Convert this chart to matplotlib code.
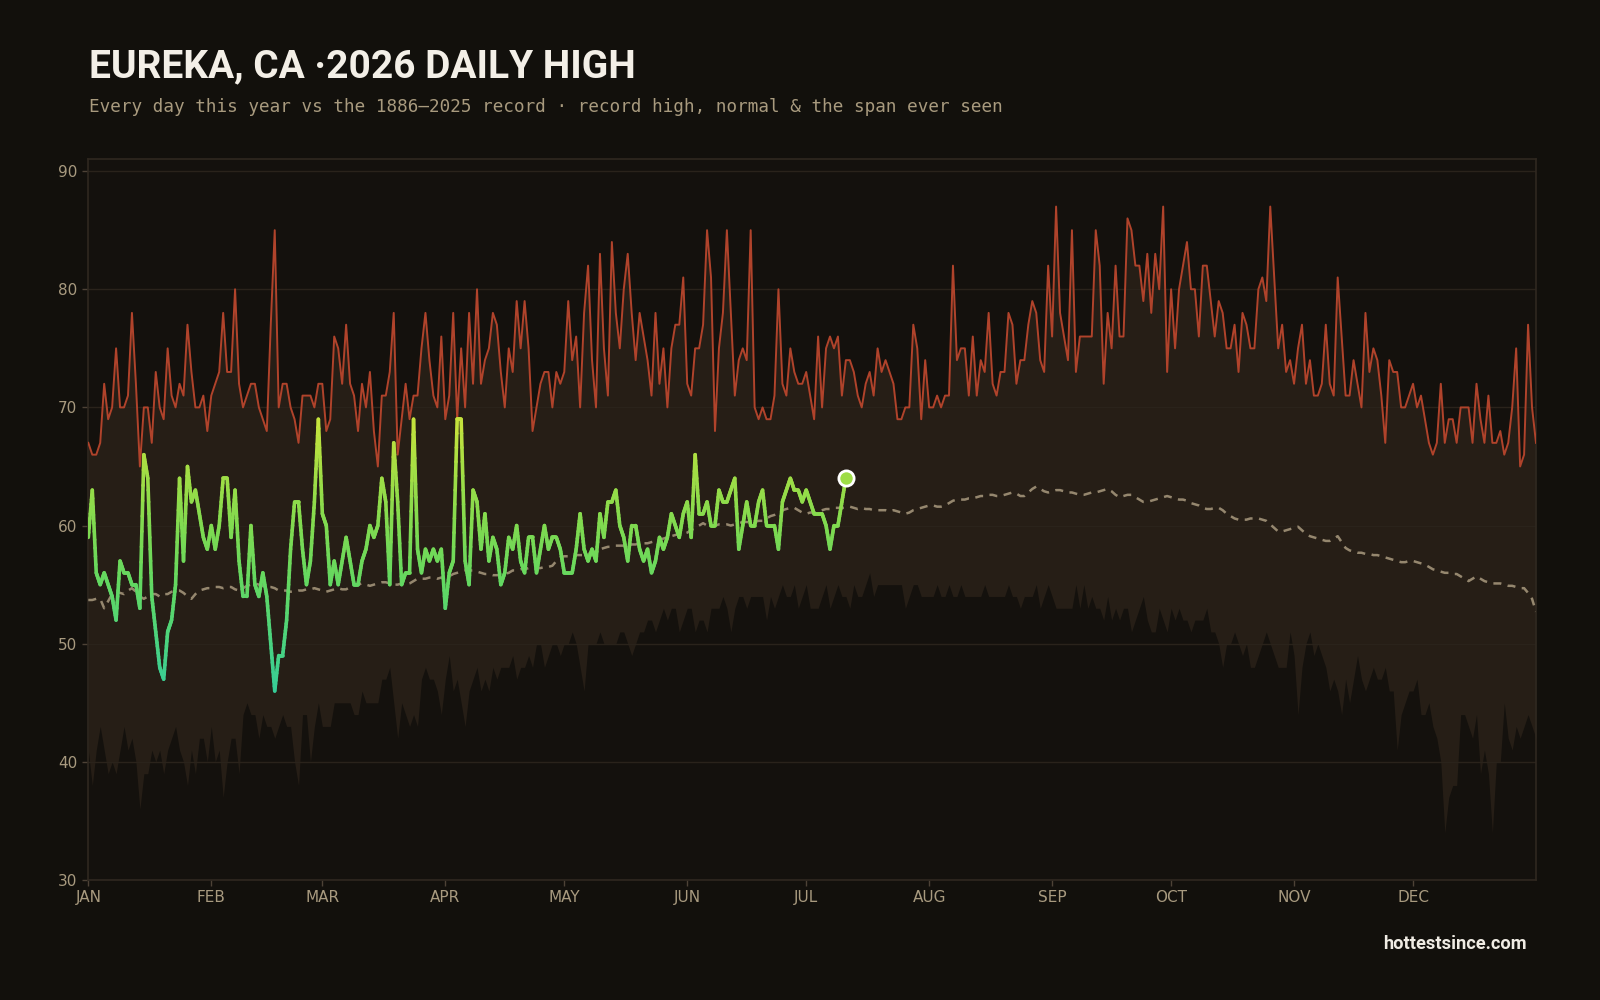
import numpy as np
import matplotlib
matplotlib.use("Agg")
import matplotlib.pyplot as plt
from matplotlib.collections import LineCollection
from matplotlib.colors import LinearSegmentedColormap, Normalize

# ---------------- data ----------------
month_labels = ['JAN', 'FEB', 'MAR', 'APR', 'MAY', 'JUN', 'JUL', 'AUG', 'SEP', 'OCT', 'NOV', 'DEC']
month_starts = [0, 31, 59, 90, 120, 151, 181, 212, 243, 273, 304, 334]
y_ticks = [30, 40, 50, 60, 70, 80, 90]

record_high = [
    67, 66, 66, 67, 72, 69, 70, 75, 70, 70,
    71, 78, 72, 65, 70, 70, 67, 73, 70, 69,
    75, 71, 70, 72, 71, 77, 73, 70, 70, 71,
    68, 71, 72, 73, 78, 73, 73, 80, 72, 70,
    71, 72, 72, 70, 69, 68, 77, 85, 70, 72,
    72, 70, 69, 67, 71, 71, 71, 70, 72, 72,
    68, 69, 76, 75, 72, 77, 72, 71, 68, 72,
    70, 73, 68, 65, 71, 71, 73, 78, 66, 69,
    72, 69, 71, 71, 75, 78, 74, 71, 70, 76,
    69, 71, 78, 69, 75, 70, 78, 72, 80, 72,
    74, 75, 78, 77, 73, 70, 75, 73, 79, 75,
    79, 75, 68, 70, 72, 73, 73, 70, 73, 72,
    73, 79, 74, 76, 70, 78, 82, 74, 70, 83,
    75, 71, 84, 78, 75, 80, 83, 78, 74, 78,
    76, 74, 71, 78, 72, 75, 70, 75, 77, 77,
    81, 72, 71, 75, 75, 77, 85, 81, 68, 75,
    78, 85, 78, 71, 74, 75, 74, 85, 70, 69,
    70, 69, 69, 71, 80, 72, 71, 75, 73, 72,
    72, 73, 71, 69, 76, 70, 75, 76, 75, 76,
    71, 74, 74, 73, 71, 70, 72, 73, 71, 75,
    73, 74, 73, 72, 69, 69, 70, 70, 77, 75,
    69, 74, 70, 70, 71, 70, 71, 71, 82, 74,
    75, 75, 71, 76, 71, 74, 73, 78, 72, 71,
    73, 73, 78, 77, 72, 74, 74, 77, 79, 78,
    74, 73, 82, 76, 87, 78, 76, 74, 85, 73,
    76, 76, 76, 76, 85, 82, 72, 78, 75, 82,
    76, 76, 86, 85, 82, 82, 79, 83, 78, 83,
    80, 87, 73, 80, 75, 80, 82, 84, 80, 80,
    76, 82, 82, 79, 76, 79, 78, 75, 75, 77,
    73, 78, 77, 75, 75, 80, 81, 79, 87, 81,
    75, 77, 73, 74, 72, 75, 77, 72, 74, 71,
    71, 72, 77, 72, 71, 81, 76, 71, 71, 74,
    72, 70, 78, 73, 75, 74, 71, 67, 74, 73,
    73, 70, 70, 71, 72, 70, 71, 69, 67, 66,
    67, 72, 67, 69, 69, 67, 70, 70, 70, 67,
    72, 69, 67, 71, 67, 67, 68, 66, 67, 70,
    75, 65, 66, 77, 70, 67,
]

record_low = [
    41, 38, 41, 43, 41, 39, 40, 39, 41, 43,
    41, 42, 40, 36, 39, 39, 41, 40, 41, 39,
    41, 42, 43, 41, 40, 38, 41, 39, 42, 42,
    40, 43, 40, 41, 37, 40, 42, 42, 39, 44,
    45, 44, 44, 42, 44, 43, 43, 42, 43, 44,
    43, 43, 40, 38, 44, 44, 40, 43, 45, 43,
    43, 43, 45, 45, 45, 45, 45, 44, 44, 46,
    45, 45, 45, 45, 47, 47, 48, 45, 42, 45,
    44, 43, 44, 43, 47, 48, 47, 47, 46, 44,
    47, 49, 46, 47, 45, 43, 46, 47, 48, 46,
    47, 46, 48, 47, 48, 48, 48, 49, 47, 48,
    48, 49, 48, 50, 50, 48, 49, 50, 50, 49,
    50, 50, 51, 50, 48, 46, 50, 50, 50, 51,
    50, 50, 50, 50, 51, 51, 50, 49, 50, 51,
    51, 52, 52, 51, 52, 53, 52, 53, 53, 51,
    52, 53, 53, 51, 52, 52, 51, 53, 53, 53,
    54, 53, 51, 53, 54, 54, 53, 54, 54, 54,
    54, 52, 54, 53, 54, 55, 54, 54, 55, 53,
    54, 55, 53, 53, 53, 54, 55, 53, 54, 55,
    54, 54, 53, 55, 54, 54, 55, 56, 54, 55,
    55, 55, 55, 55, 55, 55, 53, 54, 55, 55,
    54, 54, 54, 54, 55, 54, 54, 55, 54, 54,
    55, 54, 54, 54, 54, 54, 55, 54, 54, 54,
    54, 54, 55, 54, 54, 53, 54, 54, 54, 55,
    53, 54, 55, 54, 53, 53, 53, 53, 53, 55,
    53, 55, 53, 54, 53, 53, 52, 54, 52, 53,
    52, 53, 53, 51, 52, 53, 54, 52, 51, 51,
    53, 52, 51, 53, 52, 53, 52, 52, 51, 52,
    52, 52, 53, 51, 51, 50, 48, 50, 50, 51,
    50, 49, 50, 48, 48, 49, 50, 51, 50, 49,
    48, 48, 48, 51, 49, 44, 48, 50, 51, 49,
    50, 49, 48, 46, 47, 46, 44, 47, 45, 47,
    49, 47, 46, 47, 48, 47, 47, 48, 46, 46,
    41, 44, 45, 46, 46, 47, 44, 44, 45, 43,
    42, 40, 34, 37, 38, 38, 44, 44, 43, 42,
    44, 39, 41, 39, 34, 40, 40, 45, 42, 41,
    43, 42, 43, 44, 43, 42,
]

normal_high = [
    53.7, 53.7, 53.8, 53.8, 53.0, 53.6, 54.2, 54.4, 54.3, 54.2,
    54.5, 54.7, 54.4, 54.0, 53.8, 54.0, 54.2, 54.2, 54.0, 54.2,
    54.2, 54.4, 54.5, 54.5, 54.3, 54.0, 53.8, 54.2, 54.5, 54.6,
    54.7, 54.7, 54.8, 54.8, 54.7, 54.8, 54.8, 54.6, 54.5, 54.7,
    54.9, 55.0, 55.1, 55.0, 54.9, 54.8, 54.8, 54.7, 54.5, 54.5,
    54.5, 54.4, 54.4, 54.5, 54.5, 54.6, 54.6, 54.7, 54.6, 54.5,
    54.4, 54.5, 54.6, 54.7, 54.6, 54.6, 54.8, 55.0, 55.0, 55.1,
    55.0, 54.9, 55.0, 55.1, 55.2, 55.2, 55.1, 55.0, 55.0, 55.1,
    55.0, 55.1, 55.3, 55.5, 55.5, 55.5, 55.6, 55.6, 55.5, 55.6,
    55.6, 55.7, 55.9, 56.0, 56.1, 56.2, 56.2, 56.2, 56.1, 56.0,
    55.9, 55.9, 55.8, 55.8, 55.8, 55.9, 56.0, 56.2, 56.2, 56.3,
    56.3, 56.4, 56.4, 56.4, 56.4, 56.5, 56.5, 56.6, 57.0, 57.3,
    57.4, 57.4, 57.4, 57.5, 57.5, 57.5, 57.6, 57.7, 57.8, 58.0,
    58.1, 58.2, 58.2, 58.3, 58.3, 58.3, 58.3, 58.4, 58.4, 58.5,
    58.5, 58.5, 58.6, 58.7, 58.8, 58.9, 59.0, 59.1, 59.2, 59.3,
    59.3, 59.4, 59.6, 59.8, 60.0, 60.2, 60.0, 59.9, 60.0, 60.1,
    60.1, 60.1, 60.0, 60.1, 60.2, 60.3, 60.3, 60.3, 60.3, 60.4,
    60.4, 60.6, 60.8, 60.9, 61.1, 61.3, 61.4, 61.5, 61.5, 61.3,
    61.1, 61.0, 61.1, 61.1, 61.2, 61.3, 61.4, 61.4, 61.5, 61.5,
    61.5, 61.5, 61.6, 61.5, 61.4, 61.5, 61.4, 61.4, 61.3, 61.3,
    61.3, 61.3, 61.2, 61.3, 61.2, 61.1, 61.0, 61.1, 61.3, 61.4,
    61.5, 61.6, 61.7, 61.7, 61.6, 61.6, 61.7, 61.9, 62.1, 62.2,
    62.2, 62.2, 62.3, 62.3, 62.4, 62.5, 62.5, 62.6, 62.6, 62.5,
    62.5, 62.6, 62.7, 62.8, 62.7, 62.5, 62.5, 62.8, 63.1, 63.3,
    63.1, 62.9, 62.8, 62.9, 63.0, 63.0, 62.9, 62.8, 62.8, 62.7,
    62.6, 62.6, 62.7, 62.8, 62.8, 62.9, 63.0, 63.1, 62.9, 62.6,
    62.4, 62.5, 62.6, 62.6, 62.4, 62.2, 62.0, 62.0, 62.1, 62.2,
    62.3, 62.4, 62.5, 62.4, 62.3, 62.2, 62.2, 62.1, 61.9, 61.8,
    61.7, 61.5, 61.4, 61.4, 61.5, 61.5, 61.3, 61.0, 60.8, 60.6,
    60.5, 60.5, 60.5, 60.6, 60.6, 60.6, 60.5, 60.4, 60.1, 59.8,
    59.5, 59.5, 59.6, 59.7, 59.8, 59.9, 59.6, 59.3, 59.1, 59.0,
    58.9, 58.8, 58.7, 58.7, 58.9, 59.1, 58.6, 58.1, 57.9, 57.8,
    57.7, 57.7, 57.6, 57.6, 57.5, 57.5, 57.4, 57.3, 57.2, 57.1,
    57.0, 56.9, 56.9, 57.0, 57.0, 56.9, 56.8, 56.7, 56.5, 56.3,
    56.2, 56.1, 56.0, 56.0, 55.9, 55.9, 55.7, 55.5, 55.3, 55.5,
    55.7, 55.5, 55.3, 55.2, 55.1, 55.1, 55.1, 55.0, 54.9, 54.9,
    54.8, 54.7, 54.7, 54.3, 53.8, 52.7,
]

this_year = [
    59, 63, 56, 55, 56, 55, 54, 52, 57, 56,
    56, 55, 55, 53, 66, 64, 54, 51, 48, 47,
    51, 52, 55, 64, 57, 65, 62, 63, 61, 59,
    58, 60, 58, 60, 64, 64, 59, 63, 57, 54,
    54, 60, 55, 54, 56, 54, 50, 46, 49, 49,
    52, 58, 62, 62, 58, 55, 57, 62, 69, 61,
    60, 55, 57, 55, 57, 59, 57, 55, 55, 57,
    58, 60, 59, 60, 64, 62, 55, 67, 62, 55,
    56, 56, 69, 58, 56, 58, 57, 58, 57, 58,
    53, 56, 57, 69, 69, 57, 55, 63, 62, 58,
    61, 57, 59, 58, 55, 56, 59, 58, 60, 57,
    56, 59, 59, 56, 58, 60, 58, 59, 59, 58,
    56, 56, 56, 58, 61, 58, 57, 58, 57, 61,
    59, 62, 62, 63, 60, 59, 57, 60, 60, 58,
    57, 58, 56, 57, 59, 58, 59, 61, 60, 59,
    61, 62, 59, 66, 61, 61, 62, 60, 60, 63,
    62, 62, 63, 64, 58, 60, 62, 60, 60, 62,
    63, 60, 60, 60, 58, 62, 63, 64, 63, 63,
    62, 63, 62, 61, 61, 61, 60, 58, 60, 60,
    62, 64,
]

title_text = "EUREKA, CA \u00b72026 DAILY HIGH"
subtitle_text = "Every day this year vs the 1886\u20132025 record \u00b7 record high, normal & the span ever seen"
credit_text = "hottestsince.com"

# ---------------- style ----------------
FIG_BG = '#12100c'
AX_BG = '#14110d'
BAND = '#261e16'
GRID = '#2a231b'
SPINE = '#2f2820'
TICK_C = '#a89a7f'
HIGH_C = '#b0432b'
NORM_C = '#a29379'

fig = plt.figure(figsize=(16, 10), dpi=100, facecolor=FIG_BG)
ax = fig.add_axes([0.0552, 0.12, 0.9048, 0.7207], facecolor=AX_BG)

days = np.arange(len(record_high))
ax.fill_between(days, record_low, record_high, color=BAND, lw=0, zorder=1)
for yv in y_ticks:
    ax.axhline(yv, color=GRID, lw=1.0, zorder=2)

ax.plot(days, record_high, color=HIGH_C, lw=1.4, zorder=3)
ax.plot(np.arange(len(normal_high)), normal_high, color=NORM_C, lw=1.8,
        dashes=(3.2, 2.6), zorder=4, alpha=0.9)

# 2026 line coloured by a vertical gradient
ty = np.array(this_year, dtype=float)
tx = np.arange(len(ty), dtype=float)
cmap = LinearSegmentedColormap.from_list(
    'yr', [(0.0, '#36cc98'), (5 / 23, '#4fd47a'), (9 / 23, '#62d862'),
           (14 / 23, '#80da50'), (18 / 23, '#9edd46'), (1.0, '#c8e33c')])
norm = Normalize(46, 69)
sub = 10
segs, cols = [], []
for i in range(len(ty) - 1):
    t = np.linspace(0, 1, sub + 1)
    xs = tx[i] + (tx[i + 1] - tx[i]) * t
    ys = ty[i] + (ty[i + 1] - ty[i]) * t
    for k in range(sub):
        segs.append([(xs[k], ys[k]), (xs[k + 1], ys[k + 1])])
        cols.append(cmap(norm(0.5 * (ys[k] + ys[k + 1]))))
lc = LineCollection(segs, colors=cols, linewidths=2.6, capstyle='round',
                    joinstyle='round', zorder=5)
ax.add_collection(lc)
ax.scatter([tx[-1]], [ty[-1]], s=120, facecolor=cmap(norm(ty[-1])),
           edgecolor='white', linewidth=2, zorder=6)

ax.set_xlim(0, 365)
ax.set_ylim(30, 91)
ax.set_xticks(month_starts)
ax.set_xticklabels(month_labels)
ax.set_yticks(y_ticks)
ax.tick_params(axis='both', colors='#4d4236', labelcolor=TICK_C, labelsize=11,
               length=4, width=1)
ax.tick_params(axis='x', pad=3)
ax.tick_params(axis='y', pad=4)
for s in ax.spines.values():
    s.set_color(SPINE)
    s.set_linewidth(1.2)

# ---------------- texts ----------------
title = fig.text(0.0555, 0.9225, title_text, fontsize=29, fontweight='bold',
                 color='#f3efe7', family=['Roboto', 'DejaVu Sans'], va='baseline', ha='left')
subtitle = fig.text(0.0555, 0.8925, subtitle_text, fontsize=12.7,
                    color='#a89a7e', family=['DejaVu Sans Mono'], va='center', ha='left')
credit = fig.text(0.9545, 0.056, credit_text, fontsize=12.5, fontweight='bold',
                  color='#f0ece4', family=['Roboto', 'DejaVu Sans'], va='center', ha='right')

fig.canvas.draw()
for txt, target in ((title, 546), (subtitle, 916), (credit, 143)):
    w = txt.get_window_extent().width
    if w > 0:
        txt.set_fontsize(txt.get_fontsize() * target / w)

fig.savefig('out.png', dpi=100, facecolor=FIG_BG)
